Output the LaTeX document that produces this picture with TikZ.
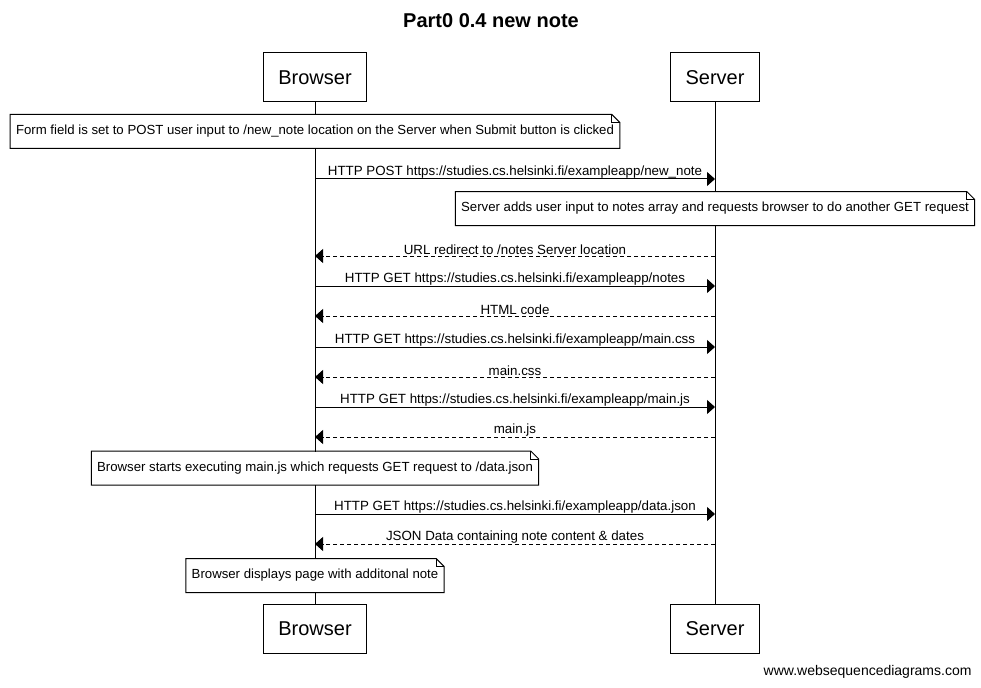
\documentclass[tikz,border=0pt]{standalone}
\usepackage{fontspec}
\setmainfont{Liberation Sans}
\usetikzlibrary{arrows.meta}

\begin{document}
\begin{tikzpicture}[
	x=0.75pt, y=-0.75pt, line width=0.75pt,
	actor/.style={draw, fill=white, font=\fontsize{15}{18}\selectfont, minimum height=36.75pt, inner xsep=11.25pt},
	notebox/.style={fill=white, font=\fontsize{9.9}{12}\selectfont, minimum height=24.75pt, inner xsep=4pt},
	msgtext/.style={above, font=\fontsize{10}{12}\selectfont, inner sep=0.5pt},
	request/.style={-{Triangle[length=6pt, width=10.5pt]}},
	reply/.style={request, dash pattern=on 3pt off 2.25pt}
]
	\useasboundingbox (0,0) rectangle (981,688);
	\node[font=\bfseries\fontsize{15}{18}\selectfont] (title) at (491,21) {Part0 0.4 new note};

	% actors and lifelines
	\node[actor] (browser) at (315,77.5) {Browser};
	\node[actor] (server) at (715,77.5) {Server};
	\node[actor] (browser2) at (315,629) {Browser};
	\node[actor] (server2) at (715,629) {Server};
	\draw (browser) -- (browser2);
	\draw (server) -- (server2);

	% notes
	\node[notebox] (note1) at (315,131.5) {Form field is set to POST user input to /new\_note location on the Server when Submit button is clicked};
	\node[notebox] (note2) at (715,208.5) {Server adds user input to notes array and requests browser to do another GET request};
	\node[notebox] (note3) at (315,468) {Browser starts executing main.js which requests GET request to /data.json};
	\node[notebox] (note4) at (315,575.5) {Browser displays page with additonal note};
	\foreach \n in {note1,note2,note3,note4} {
		\draw (\n.south west) -- (\n.south east) -- ([yshift=-6pt]\n.north east)
			-- ([xshift=-6pt]\n.north east) -- (\n.north west) -- cycle;
		\draw ([xshift=-6pt]\n.north east) |- ([yshift=-6pt]\n.north east);
	}

	% browser -> server
	\foreach \y/\txt in {
		179/{HTTP POST https://studies.cs.helsinki.fi/exampleapp/new\_note},
		286/{HTTP GET https://studies.cs.helsinki.fi/exampleapp/notes},
		347/{HTTP GET https://studies.cs.helsinki.fi/exampleapp/main.css},
		407/{HTTP GET https://studies.cs.helsinki.fi/exampleapp/main.js},
		514/{HTTP GET https://studies.cs.helsinki.fi/exampleapp/data.json}
	} {
		\coordinate (row) at (0,\y);
		\draw[request] (browser |- row) -- node[msgtext] {\txt} (server |- row);
	}

	% server -> browser
	\foreach \y/\txt in {
		256/{URL redirect to /notes Server location},
		316/{HTML code},
		377/{main.css},
		437/{main.js},
		544/{JSON Data containing note content \& dates}
	} {
		\coordinate (row) at (0,\y);
		\draw[reply] (server |- row) -- node[msgtext] {\txt} (browser |- row);
	}

	\node[anchor=east, inner sep=0pt, font=\fontsize{10.5}{12}\selectfont] (site) at (972,672) {www.websequencediagrams.com};
\end{tikzpicture}
\end{document}
